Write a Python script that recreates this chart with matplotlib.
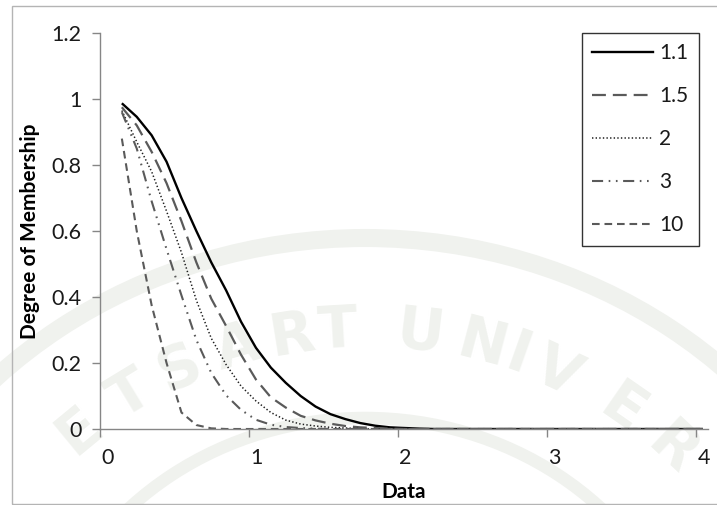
import numpy as np
import matplotlib
matplotlib.use("Agg")
import matplotlib.pyplot as plt
import matplotlib.transforms as mtransforms
from matplotlib.patches import Rectangle, Arc
from matplotlib.lines import Line2D

plt.rcParams['font.family'] = ['Lato', 'DejaVu Sans']
plt.rcParams['lines.scale_dashes'] = False

# data points along x (0.15 .. 4.05, step 0.1)
x = np.round(np.arange(0.15, 4.1, 0.1), 2)
n = len(x)

# membership values read per fuzzifier, tail is zero
m_labels = ["1.1", "1.5", "2", "3", "10"]
u_11 = [0.987, 0.946, 0.89, 0.81, 0.70, 0.60, 0.505, 0.42, 0.325, 0.246,
        0.186, 0.14, 0.10, 0.068, 0.045, 0.03, 0.018, 0.01, 0.005, 0.003, 0.001]
u_15 = [0.975, 0.92, 0.84, 0.745, 0.63, 0.505, 0.395, 0.312, 0.225, 0.15,
        0.096, 0.065, 0.04, 0.026, 0.016, 0.009, 0.005, 0.003, 0.001]
u_2 = [0.965, 0.87, 0.78, 0.66, 0.535, 0.39, 0.275, 0.195, 0.13, 0.085,
       0.05, 0.027, 0.015, 0.009, 0.005, 0.003, 0.001]
u_3 = [0.96, 0.85, 0.69, 0.545, 0.405, 0.27, 0.17, 0.102, 0.058, 0.028,
       0.013, 0.006, 0.003, 0.001]
u_10 = [0.88, 0.60, 0.375, 0.20, 0.05, 0.012, 0.002]

series = [u_11, u_15, u_2, u_3, u_10]

# line look for each series
styles = [
    dict(color="black", lw=1.7, ls="-"),
    dict(color="#5a5a5a", lw=1.6, ls=(0, (10, 5))),
    dict(color="#1e1e1e", lw=1.1, ls=(0, (1, 1.6))),
    dict(color="#5a5a5a", lw=1.5, ls=(0, (8, 4, 1.2, 4, 1.2, 4))),
    dict(color="#5a5a5a", lw=1.5, ls=(0, (5.5, 3.5))),
]

# background stamp: letters and their pixel x along an elliptical arc
stamp_letters = list("ETSARTUNIVER")
stamp_x = [80, 130, 180, 238, 292, 338, 420, 482, 518, 557, 622, 672]

W, H = 717, 505
fig = plt.figure(figsize=(W / 100, H / 100), dpi=100)

wm = "#f0f2ee"
cx, cy, rx, ry = 365, 730, 430, 400
for ch, px in zip(stamp_letters, stamp_x):
    t = np.arcsin((px - cx) / rx)
    py = cy - ry * np.cos(t)
    rot = np.degrees(np.arctan2(-ry * np.sin(t), rx * np.cos(t)))
    fig.text(px / W, 1 - py / H, ch, family="DejaVu Sans", fontsize=42,
             fontweight="bold", color=wm, ha="center", va="center",
             rotation=rot, rotation_mode="anchor", zorder=0)
for k, lw in [(1.23, 13), (0.78, 9)]:
    fig.patches.append(Arc((cx / W, 1 - cy / H), 2 * rx * k / W, 2 * ry * k / H,
                           theta1=25, theta2=155, transform=fig.transFigure,
                           color=wm, lw=lw, zorder=0))

# outer chart border
fig.patches.append(Rectangle((12 / W, 1 - 504 / H), 1.0, (504 - 5.5) / H,
                             transform=fig.transFigure, fill=False,
                             edgecolor="#b4b4b4", lw=1.0, zorder=1))

ax = fig.add_axes([99.5 / W, 1 - 429 / H, (708 - 99.5) / W, (429 - 33) / H])
ax.patch.set_visible(False)
ax.set_zorder(2)

for vals, st, lab in zip(series, styles, m_labels):
    y = np.array(vals + [0.0] * (n - len(vals)))
    ax.plot(x, y, label=lab, solid_capstyle="butt", dash_capstyle="butt", **st)

ax.set_xlim(0, (708 - 99.5) / 149)
ax.set_ylim(0, 1.2)
ax.set_xticks([0, 1, 2, 3, 4])
ax.set_yticks([0, 0.2, 0.4, 0.6, 0.8, 1.0, 1.2])
ax.yaxis.set_major_formatter(plt.FuncFormatter(lambda v, p: "%g" % v))

for s in ["top", "right"]:
    ax.spines[s].set_visible(False)
for s in ["left", "bottom"]:
    ax.spines[s].set_color("#868686")
    ax.spines[s].set_linewidth(1.0)
ax.tick_params(axis="both", direction="out", length=6, width=1,
               color="#868686", labelsize=15.5, labelcolor="#1a1a1a")
ax.tick_params(axis="y", pad=7)
ax.tick_params(axis="x", pad=8)

# x tick labels sit a little right of their ticks
shift = mtransforms.ScaledTranslation(8 / 100, 0, fig.dpi_scale_trans)
for lbl in ax.get_xticklabels():
    lbl.set_transform(lbl.get_transform() + shift)

ax.set_xlabel("Data", fontsize=15, fontweight="bold", labelpad=10)
ax.set_ylabel("Degree of Membership", fontsize=15, fontweight="bold", labelpad=8)

handles = [Line2D([], [], **st) for st in styles]
leg = fig.legend(handles, m_labels, loc="upper left",
                 bbox_to_anchor=(582 / W, 1 - 33 / H), fontsize=15,
                 frameon=True, fancybox=False, edgecolor="black",
                 borderpad=0.5, labelspacing=1.1, handlelength=2.9,
                 handletextpad=0.3, borderaxespad=0)
leg.get_frame().set_linewidth(1.0)
leg.set_zorder(5)
for t in leg.get_texts():
    t.set_color("#1a1a1a")

fig.savefig("out.png", dpi=100)
